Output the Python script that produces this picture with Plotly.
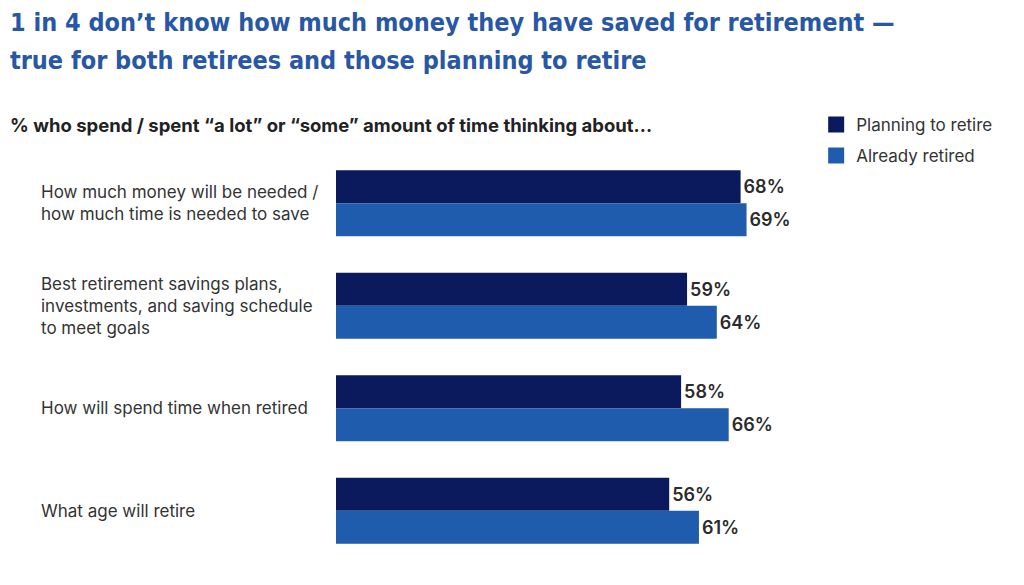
import plotly.graph_objects as go

categories = [
    "How much money will be needed /<br>how much time is needed to save",
    "Best retirement savings plans,<br>investments, and saving schedule<br>to meet goals",
    "How will spend time when retired",
    "What age will retire",
]
planning = [68, 59, 58, 56]
retired = [69, 64, 66, 61]
series_names = ["Planning to retire", "Already retired"]
colors = ["#0b1a5c", "#1f5cae"]

title_lines = [
    "1 in 4 don\u2019t know how much money they have saved for retirement \u2014",
    "true for both retirees and those planning to retire",
]
subtitle_text = "% who spend / spent \u201ca lot\u201d or \u201csome\u201d amount of time thinking about..."

ycats = list(range(len(categories)))

fig = go.Figure()
for name, vals, col in zip(series_names, [planning, retired], colors):
    fig.add_trace(go.Bar(
        y=ycats, x=vals, name=name, orientation="h",
        marker=dict(color=col, line=dict(width=0)),
        text=[f"{v}%" for v in vals], textposition="outside",
        textfont=dict(family="Inter, Roboto, sans-serif", size=18, color="#2b2b2b", weight=600),
        cliponaxis=False, showlegend=False,
    ))
# legend entries with larger square swatches
for name, col in zip(series_names, colors):
    fig.add_trace(go.Scatter(
        x=[None], y=[None], mode="markers", name=name, legendgroup=name,
        marker=dict(symbol="square", size=20, color=col),
    ))

annotations = []
for line, yy in zip(title_lines, [1.317, 1.224]):
    annotations.append(dict(text=line, xref="paper", yref="paper", x=-0.552, y=yy,
                            xanchor="left", yanchor="middle", align="left", showarrow=False,
                            font=dict(family="DejaVu Sans Condensed, Liberation Sans Narrow, sans-serif",
                                      size=25, color="#2857a5", weight=700)))
annotations.append(dict(text=subtitle_text, xref="paper", yref="paper", x=-0.552, y=1.066,
                        xanchor="left", yanchor="middle", align="left", showarrow=False,
                        font=dict(family="Inter, Roboto, sans-serif", size=18.5, color="#222222", weight=700)))
for i, c in enumerate(categories):
    annotations.append(dict(text=c, xref="paper", yref="y", x=-0.5, y=i,
                            xanchor="left", yanchor="middle", align="left", showarrow=False,
                            font=dict(family="Inter, Roboto, sans-serif", size=17, color="#333333")))

fig.update_layout(
    width=1024, height=585,
    margin=dict(l=336, r=93, t=152, b=23),
    paper_bgcolor="white", plot_bgcolor="white",
    barmode="group", bargap=0.357, bargroupgap=0,
    xaxis=dict(range=[0, 100], visible=False, fixedrange=True),
    yaxis=dict(autorange="reversed", visible=False, fixedrange=True),
    legend=dict(x=0.807, y=1.11, xanchor="left", yanchor="top",
                font=dict(family="Inter, Roboto, sans-serif", size=17, color="#333333"),
                traceorder="grouped", tracegroupgap=6, itemsizing="trace"),
    annotations=annotations,
    showlegend=True,
)
fig.write_html("out.html")
